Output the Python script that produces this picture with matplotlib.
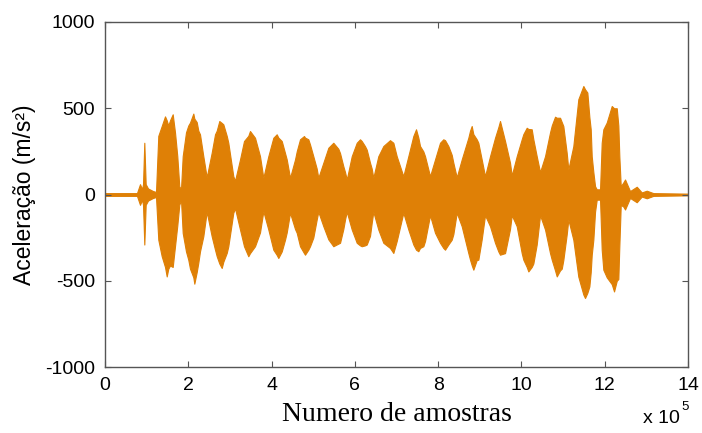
import numpy as np
import matplotlib
matplotlib.use("Agg")
import matplotlib.pyplot as plt

# envelope of the acceleration signal
# x in units of 1e5 samples, values in m/s2
env_x = [0.000, 0.768, 0.841, 0.889, 0.913, 0.944, 0.977, 1.033, 1.153, 1.225,
         1.280, 1.362, 1.441, 1.482, 1.520, 1.561, 1.626, 1.681, 1.736, 1.784, 1.825,
         1.866, 1.945, 2.000, 2.041, 2.121, 2.145, 2.202, 2.241, 2.281, 2.361, 2.442,
         2.562, 2.642, 2.683, 2.745, 2.803, 2.841, 2.923, 2.961, 3.081, 3.122,
         3.242, 3.338, 3.441, 3.482, 3.602, 3.722, 3.802,
         3.922, 4.042, 4.123, 4.162, 4.244, 4.323, 4.364, 4.443,
         4.563, 4.604, 4.683, 4.779, 4.803, 4.882, 4.923, 5.002, 5.084, 5.122,
         5.243, 5.363, 5.483, 5.603, 5.644, 5.723, 5.764, 5.805,
         5.925, 6.045, 6.124, 6.165, 6.244, 6.285, 6.364, 6.405, 6.443,
         6.563, 6.684, 6.844, 6.924, 7.005, 7.164,
         7.284, 7.404, 7.469, 7.524, 7.565, 7.644, 7.685, 7.805,
         7.925, 8.045, 8.124, 8.165, 8.245, 8.326, 8.365, 8.446,
         8.566, 8.725, 8.766, 8.806, 8.845, 8.926, 8.965, 9.046, 9.126,
         9.246, 9.366, 9.445, 9.486, 9.606, 9.726, 9.767,
         9.887, 10.007, 10.046, 10.127, 10.166, 10.247, 10.286, 10.367, 10.447,
         10.567, 10.687, 10.728, 10.807, 10.848, 10.927, 10.968, 11.006, 11.088, 11.126,
         11.246, 11.366, 11.487, 11.527, 11.583, 11.631, 11.664, 11.688, 11.727, 11.768, 11.808,
         11.888, 11.928, 11.967, 12.048, 12.169, 12.224, 12.289, 12.327, 12.351, 12.385,
         12.447, 12.488, 12.536, 12.608, 12.769, 12.889, 13.009, 13.168, 14.000]

env_top = [8, 8, 60, 30, 60, 300, 60, 35, 20, 15,
           340, 397, 453, 430, 400, 430, 465, 360, 222, 48, 30,
           222, 360, 400, 417, 469, 440, 420, 370, 349, 222, 100,
           242, 349, 370, 426, 415, 407, 340, 300, 106, 80,
           203, 310, 340, 368, 329, 222, 97,
           222, 329, 349, 330, 310, 240, 203, 97,
           203, 250, 320, 339, 330, 320, 290, 222, 150, 97,
           184, 271, 300, 265, 240, 164, 130, 87,
           222, 300, 320, 310, 280, 260, 184, 150, 97,
           222, 281, 315, 300, 222, 106,
           222, 339, 378, 330, 281, 250, 222, 106,
           203, 300, 320, 315, 281, 230, 184, 100,
           203, 329, 370, 397, 350, 320, 300, 203, 106,
           222, 329, 390, 426, 310, 184, 110,
           222, 320, 350, 387, 380, 378, 320, 222, 130,
           222, 360, 400, 451, 445, 445, 420, 397, 240, 145,
           280, 552, 629, 610, 591, 450, 378, 222, 130, 48, 30,
           30, 300, 378, 417, 513, 500, 500, 400, 222, 48,
           70, 87, 60, 20, 45, 12, 22, 8, 5]

env_bot = [-8, -8, -60, -30, -60, -290, -60, -35, -20, -15,
           -262, -358, -420, -475, -430, -412, -420, -300, -180, -60, -30,
           -223, -330, -378, -430, -480, -517, -450, -395, -330, -242, -100,
           -242, -320, -358, -400, -426, -390, -339, -300, -106, -80,
           -203, -300, -358, -340, -300, -220, -97,
           -203, -320, -350, -368, -330, -262, -220, -106,
           -200, -222, -300, -340, -349, -320, -300, -250, -145, -100,
           -184, -260, -300, -285, -280, -200, -145, -100,
           -203, -280, -295, -300, -295, -290, -240, -164, -100,
           -203, -280, -310, -339, -270, -106,
           -203, -290, -320, -329, -310, -300, -270, -120,
           -222, -280, -310, -320, -290, -262, -230, -106,
           -184, -340, -378, -410, -436, -380, -378, -260, -120,
           -184, -280, -330, -349, -340, -200, -120,
           -184, -340, -378, -420, -446, -420, -400, -290, -120,
           -203, -340, -378, -440, -475, -440, -430, -380, -230, -145,
           -262, -476, -580, -600, -570, -533, -450, -350, -262, -100, -30,
           -30, -320, -436, -480, -520, -562, -500, -490, -300, -60,
           -70, -87, -60, -20, -45, -12, -22, -8, -5]

xticks = [0, 2, 4, 6, 8, 10, 12, 14]
yticks = [-1000, -500, 0, 500, 1000]

orange = "#DF8006"
axcol = "#555555"

plt.rcParams['font.family'] = ['Liberation Sans', 'DejaVu Sans']
plt.rcParams['axes.unicode_minus'] = False

fig = plt.figure(figsize=(7.02, 4.33), dpi=100)
ax = fig.add_axes([105/702, 1 - 367/433, (688 - 105)/702, (367 - 22)/433])

ax.fill_between(env_x, env_bot, env_top, color=orange, linewidth=0.8,
                edgecolor=orange)

ax.set_xlim(0, 14)
ax.set_ylim(-1000, 1000)
ax.set_xticks(xticks)
ax.set_yticks(yticks)
ax.tick_params(direction='in', length=4, width=0.8, color=axcol,
               top=True, right=True, labelsize=14, pad=7)
for s in ax.spines.values():
    s.set_color(axcol)
    s.set_linewidth(1.0)

ax.set_ylabel("Aceleração (m/s²)", fontsize=16.5, labelpad=7)
ax.set_xlabel("Numero de amostras", fontsize=20, family='Liberation Serif',
              labelpad=6)

# multiplier shown under the right end of the x axis
fig.text(680/702, 1 - 423/433, "x 10", fontsize=14, ha='right', va='baseline')
fig.text(681/702, 1 - 410/433, "5", fontsize=9.5, ha='left', va='baseline')

fig.savefig("out.png", dpi=100)
